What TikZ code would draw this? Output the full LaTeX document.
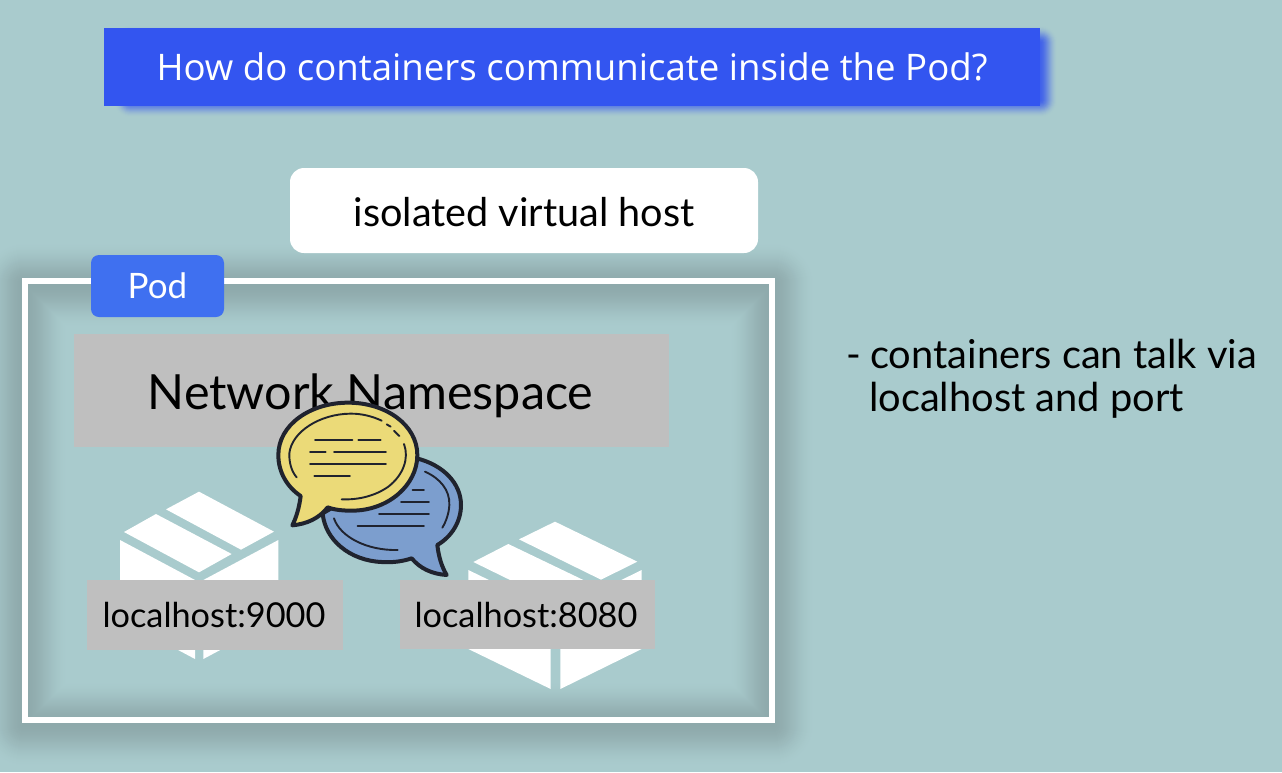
\documentclass[tikz,border=0pt]{standalone}
\usepackage{fontspec}
\setmainfont{Lato}
\newfontfamily\titlefont{Open Sans}
\definecolor{bgc}{HTML}{A9CBCD}
\definecolor{titlec}{HTML}{3355F0}
\definecolor{tshadow}{HTML}{3F60EA}
\definecolor{glowc}{HTML}{8EA9AB}
\definecolor{podc}{HTML}{3F70F0}
\definecolor{greyc}{HTML}{BFBFBF}
\definecolor{inkc}{HTML}{20232E}
\definecolor{yellowc}{HTML}{EBDA78}
\definecolor{bluec}{HTML}{7C9ECE}
\tikzset{
  x=1pt,y=-1pt,
  greybox/.style={fill=greyc,draw=none},
  boxface/.style={fill=white,draw=none},
  ink/.style={draw=inkc,line width=1.9pt,line cap=round},
  outline/.style={draw=inkc,line width=4pt,line join=round},
  rtext/.style={inner sep=0pt,anchor=base west,text=black,font=\fontsize{39.8}{44}\selectfont},
}
\begin{document}
\begin{tikzpicture}
\useasboundingbox (0,0) rectangle (1282,772);
\fill[bgc] (0,0) rectangle (1282,772);
% title shadow
\foreach \h in {18,17,...,1}{
  \pgfmathsetmacro{\t}{\h/18}
  \pgfmathsetmacro{\p}{100*\t*\t*(3-2*\t)}
  \filldraw[fill=bgc!\p!tshadow,draw=bgc!\p!tshadow,line width=2*\h pt,line join=round] (131,43) rectangle (1040,100);
}
\node[fill=titlec,minimum width=936pt,minimum height=78pt,inner sep=0pt,text=white,font=\titlefont\fontsize{36.6}{40}\selectfont] (title) at (572,67) {How do containers communicate inside the Pod?};
% pod frame glow
\foreach \h in {44,43,...,1}{
  \pgfmathsetmacro{\t}{\h/44}
  \pgfmathsetmacro{\p}{100*\t*\t*(3-2*\t)}
  \draw[bgc!\p!glowc,line width=2*\h pt,line join=round] (25,285) rectangle (772,724);
}
\node[fill=white,rounded corners=14pt,minimum width=468pt,minimum height=85pt,inner sep=0pt] (host) at (524,210.5) {};
\node[inner sep=0pt,text=black,font=\fontsize{39.6}{44}\selectfont] (hosttext) at (524,212) {isolated virtual host};
\draw[white,line width=6pt] (25,281) rectangle (772,720);
\node[fill=podc,rounded corners=8pt,minimum width=133pt,minimum height=62pt,inner sep=0pt,text=white,font=\fontsize{35}{38}\selectfont] (pod) at (157.5,286) {Pod};
% boxes
\begin{scope}[shift={(80,480)},x=.33333pt,y=-.33333pt]
  \fill[boxface] (357,35)--(582,155)--(483,209)--(258,88)--cycle;
  \fill[boxface] (228,102)--(455,222)--(357,277)--(132,156)--cycle;
  \fill[boxface] (120,180)--(345,300)--(345,537)--(120,417)--cycle;
  \fill[boxface] (595,180)--(370,300)--(370,537)--(595,417)--cycle;
\end{scope}
\begin{scope}[shift={(400,510)},x=.33333pt,y=-.33333pt]
  \fill[boxface] (465,35)--(712,155)--(603,209)--(357,88)--cycle;
  \fill[boxface] (325,102)--(575,222)--(467,277)--(220,156)--cycle;
  \fill[boxface] (205,180)--(452,300)--(452,537)--(205,417)--cycle;
  \fill[boxface] (725,180)--(481,300)--(481,537)--(725,417)--cycle;
\end{scope}
% grey labels
\node[greybox,minimum width=595pt,minimum height=113pt,inner sep=0pt] (ns) at (371.5,390.5) {};
\node[inner sep=0pt,text=black,font=\fontsize{48.5}{50}\selectfont] (nstext) at (370.5,396) {Network Namespace};
\node[greybox,minimum width=256pt,minimum height=70pt,inner sep=0pt] (l9000) at (215,615) {};
\node[inner sep=0pt,text=black,font=\fontsize{34.3}{38}\selectfont] (t9000) at (214,615) {localhost:9000};
\node[greybox,minimum width=255pt,minimum height=69pt,inner sep=0pt] (l8080) at (527.5,614.5) {};
\node[inner sep=0pt,text=black,font=\fontsize{34.3}{38}\selectfont] (t8080) at (526,614.5) {localhost:8080};
% bubbles
\begin{scope}[shift={(260,390)},x=.33333pt,y=-.33333pt]
  % blue
  \path[outline,fill=bluec] (455,505)
     .. controls (425,515) and (395,518) .. (365,516)
     .. controls (270,512) and (195,450) .. (188,370)
     -- (470,205)
     .. controls (550,225) and (603,280) .. (603,345)
     .. controls (603,395) and (575,440) .. (532,465)
     .. controls (536,500) and (545,530) .. (560,555)
     .. controls (515,552) and (480,535) .. (455,505) -- cycle;
  \draw[ink] (495,245) .. controls (540,265) and (570,300) .. (568,345) .. controls (567,370) and (558,395) .. (547,413);
  \draw[ink] (222,385) .. controls (240,440) and (320,482) .. (413,480);
  \draw[ink] (458,300)--(492,300);
  \draw[ink] (423,336)--(507,336);
  \draw[ink] (357,372)--(507,372);
  \draw[ink] (293,408)--(492,408);
  % yellow
  \path[outline,fill=yellowc] (203,352)
     .. controls (225,360) and (250,362) .. (275,362)
     .. controls (385,362) and (472,285) .. (472,195)
     .. controls (472,105) and (378,38) .. (265,38)
     .. controls (150,38) and (55,105) .. (55,195)
     .. controls (55,245) and (80,290) .. (122,318)
     .. controls (118,350) and (110,380) .. (97,406)
     .. controls (140,402) and (178,385) .. (203,352) -- cycle;
  \draw[ink] (110,262) .. controls (95,245) and (87,218) .. (88,190) .. controls (95,125) and (180,72) .. (270,71) .. controls (305,70) and (340,80) .. (365,92);
  \draw[ink] (380,103)--(392,110);
  \draw[ink] (402,122)--(418,138);
  \draw[ink] (432,162) .. controls (448,205) and (430,255) .. (385,290) .. controls (345,318) and (295,330) .. (245,328);
  \draw[ink] (165,150)--(277,150);
  \draw[ink] (295,150)--(362,150);
  \draw[ink] (150,186)--(197,186);
  \draw[ink] (222,186)--(378,186);
  \draw[ink] (150,222)--(378,222);
  \draw[ink] (163,258)--(270,258);
\end{scope}
% side text
\node[rtext] (side1) at (846,368) {-};
\node[rtext] (side2) at (870,368) {containers can talk via};
\node[rtext] (side3) at (869,411) {localhost and port};
\end{tikzpicture}
\end{document}
